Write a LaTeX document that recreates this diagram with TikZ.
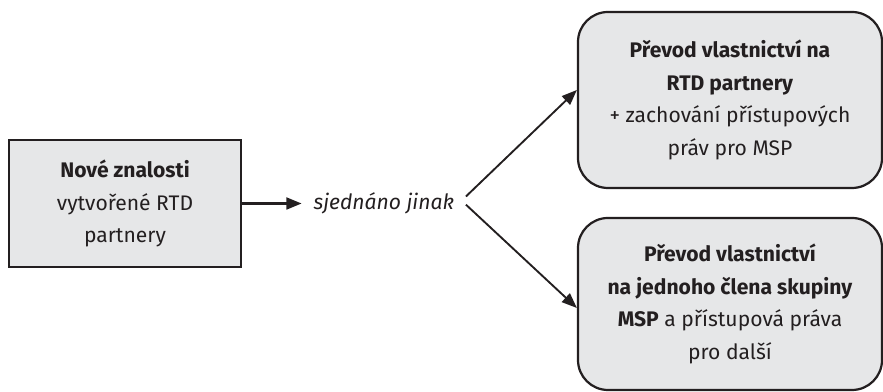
\documentclass[tikz,border=0pt]{standalone}
\usepackage{fontspec}
\setmainfont{Fira Sans}
\usepackage{xcolor}
\usepackage{tikz}
\usetikzlibrary{arrows.meta,positioning}

\definecolor{ink}{HTML}{231F20}
\definecolor{boxfill}{HTML}{E6E7E8}

\begin{document}
\begin{tikzpicture}[
  x=1cm,
  y=1cm,
  font=\fontsize{18}{28}\selectfont,
  flow/.style={-{Triangle[length=13pt,width=10pt]}, line width=1.6pt, draw=ink},
  result/.style={draw=ink, fill=boxfill, line width=1.9pt, align=center,
    text=ink, inner sep=0pt},
  source/.style={result, minimum width=6.96cm, minimum height=3.81cm},
  outcome/.style={result, rounded corners=0.9cm, minimum width=9.12cm}
]

\useasboundingbox (0,0) rectangle (26.49,11.76);

% Starting point and the agreed split
\node[source] (znalosti) at (3.75,5.655)
  {\textbf{Nové znalosti}\\vytvořené RTD\\partnery};
\node[anchor=west, inner xsep=10pt, text=ink] (jinak) at (9.05,5.655)
  {\textit{sjednáno jinak}};
\draw[flow, line width=2.2pt] (znalosti.east) -- (jinak.west);

% Two possible outcomes
\node[outcome, minimum height=5.28cm] (rtd) at (21.9,8.76)
  {\textbf{Převod vlastnictví na}\\\textbf{RTD partnery}\\+ zachování přístupových\\práv pro MSP};
\node[outcome, minimum height=5.16cm] (msp) at (21.9,2.64)
  {\textbf{Převod vlastnictví}\\\textbf{na jednoho člena skupiny}\\\textbf{MSP} a přístupová práva\\pro další};

\draw[flow] ([yshift=6pt]jinak.east) -- ([yshift=0.3cm]rtd.west);
\draw[flow] ([yshift=-1pt]jinak.east) -- ([yshift=-0.12cm]msp.west);

\end{tikzpicture}
\end{document}
